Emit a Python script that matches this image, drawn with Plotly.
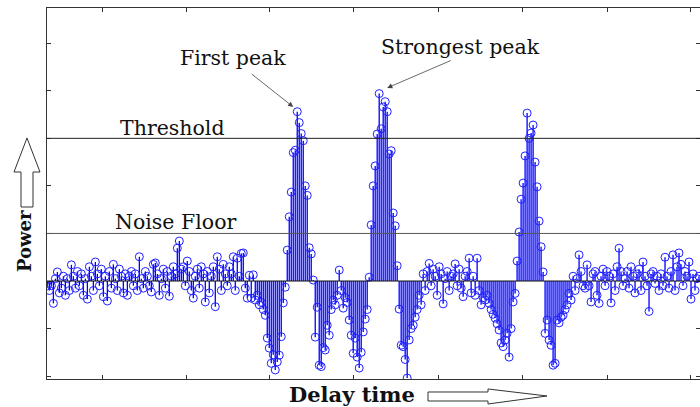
import plotly.graph_objects as go

# ---- data ----
power = [
    # 0-9
    -0.10, -0.20, -0.10, -0.47, 0.05, 0.19, -0.25, -0.15, 0.10, -0.30,
    # 10-19
    0.05, -0.20, 0.34, 0.10, -0.15, 0.20, -0.10, 0.15, -0.30, 0.05,
    # 20-29
    -0.38, 0.30, 0.10, -0.20, 0.40, 0.15, -0.10, 0.25, -0.33, 0.10,
    # 30-39
    -0.42, 0.20, -0.15, 0.35, 0.05, -0.20, 0.25, 0.10, -0.25, 0.15,
    # 40-49
    -0.30, 0.10, 0.20, -0.10, 0.15, -0.20, 0.51, 0.05, -0.15, 0.20,
    # 50-59
    0.10, -0.10, -0.23, 0.35, 0.38, 0.15, -0.30, 0.05, 0.25, -0.15,
    # 60-69
    0.20, -0.32, 0.10, 0.30, 0.15, 0.69, 0.84, 0.25, 0.30, -0.10,
    # 70-79
    0.42, 0.20, -0.20, -0.36, 0.10, 0.25, -0.15, 0.30, 0.15, -0.44,
    # 80-89
    0.20, -0.25, 0.10, 0.30, -0.54, 0.51, 0.25, -0.20, 0.35, 0.15,
    # 90-99
    -0.10, 0.30, 0.15, 0.51, -0.20, 0.48, 0.10, 0.58, 0.59, -0.15,
    # 100-109
    -0.36, 0.12, -0.36, 0.13, -0.40, -0.30, -0.50, -0.45, -0.60, -0.72,
    # 110-119
    -1.20, -1.41, -1.73, -1.55, -1.87, -1.70, -1.56, -1.17, -0.46, -0.13,
    # 120-129
    0.65, 1.35, 1.87, 2.70, 2.75, 3.56, 3.33, 3.10, 2.95, 2.00,
    # 130-139
    1.80, 0.70, 0.57, 0.02, -1.18, -0.55, -1.77, -1.80, -1.40, -1.45,
    # 140-149
    -0.93, -1.14, -0.60, -0.40, -0.50, -0.30, 0.23, -0.20, -0.57, -0.35,
    # 150-159
    -0.45, -0.82, -1.14, -1.52, -1.20, -1.60, -1.83, -1.50, -1.07, -0.80,
    # 160-169
    -0.60, 0.08, 1.18, 2.00, 2.42, 3.09, 3.94, 3.20, 3.66, 3.77,
    # 170-179
    3.56, 2.67, 2.74, 1.43, 1.16, 0.32, -0.59, -1.35, -1.38, -1.65,
    # 180-189
    -2.04, -1.24, -1.00, -0.93, -0.76, -0.60, -0.30, -0.50, 0.15, -0.20,
    # 190-199
    0.20, 0.37, -0.10, 0.25, 0.10, -0.30, 0.30, 0.15, -0.48, 0.05,
    # 200-209
    0.20, -0.20, 0.10, 0.15, 0.36, -0.10, 0.25, -0.15, -0.33, 0.10,
    # 210-219
    0.20, 0.48, -0.25, 0.10, -0.30, 0.48, -0.20, -0.50, -0.35, -0.40,
    # 220-229
    -0.30, -0.47, -0.60, -0.70, -0.78, -0.90, -1.03, -1.30, -1.38, -1.24,
    # 230-239
    -1.10, -1.60, -1.00, -0.44, -0.26, 0.42, 1.03, 1.72, 2.06, 2.63,
    # 240-249
    3.53, 3.00, 3.11, 3.28, 2.50, 1.98, 1.26, 0.72, 0.19, -1.10,
    # 250-259
    -0.82, -1.24, -1.35, -1.77, -1.73, -0.82, -0.88, -0.76, -0.72, -0.60,
    # 260-269
    -0.50, -0.26, -0.40, 0.10, -0.20, 0.05, 0.55, 0.20, -0.10, -0.15,
    # 270-279
    0.34, -0.10, -0.44, 0.15, 0.20, -0.30, -0.47, 0.10, 0.25, -0.10,
    # 280-289
    0.20, 0.10, -0.46, 0.15, -0.20, 0.30, 0.69, 0.20, -0.10, 0.05,
    # 290-299
    0.20, -0.15, 0.30, 0.10, -0.25, 0.15, 0.25, -0.20, 0.40, 0.10,
    # 300-309
    -0.10, -0.64, 0.15, 0.20, -0.05, 0.10, -0.20, 0.15, -0.10, 0.50,
    # 310-319
    0.10, -0.15, 0.20, 0.55, -0.20, 0.30, 0.59, 0.35, -0.10, 0.20,
    # 320-326
    0.10, 0.40, -0.38, 0.15, -0.20, 0.05, 0.10,
]
delay = list(range(len(power)))

threshold_level = 3.0
noise_floor_level = 1.0
y_ticks = [-2, -1, 0, 1, 2, 3, 4, 5]
x_ticks = [27.35, 69.5, 111, 153, 195.5, 237.5, 280, 321.5]

# ---- geometry helpers (pixel -> paper) ----
L, R, T, B = 47, 700, 8, 379
def px(x):
    return (x - L) / (R - L)
def py(y):
    return (B - y) / (B - T)

stem_x, stem_y = [], []
for xi, yi in zip(delay, power):
    stem_x += [xi, xi, None]
    stem_y += [0, yi, None]

fig = go.Figure()
fig.add_trace(go.Scatter(x=stem_x, y=stem_y, mode="lines",
                         line=dict(color="#0000FF", width=1.3),
                         hoverinfo="skip", showlegend=False))
fig.add_trace(go.Scatter(x=delay, y=power, mode="markers",
                         marker=dict(symbol="circle-open", size=8,
                                     color="#2020ff", line=dict(width=1)),
                         showlegend=False))

serif = "DejaVu Serif"
shapes = [
    dict(type="line", xref="paper", x0=0, x1=1, yref="y", y0=0, y1=0,
         line=dict(color="#111111", width=1), layer="above"),
    dict(type="line", xref="paper", x0=0, x1=1, yref="y",
         y0=threshold_level, y1=threshold_level,
         line=dict(color="#222222", width=1), layer="above"),
    dict(type="line", xref="paper", x0=0, x1=1, yref="y",
         y0=noise_floor_level, y1=noise_floor_level,
         line=dict(color="#555555", width=1), layer="above"),
]
# hollow up arrow (y axis)
up = [(21, 207), (21, 172), (14, 172), (27, 138), (40, 172), (33, 172), (33, 207)]
path = "M " + " L ".join(f"{px(a):.5f},{py(b):.5f}" for a, b in up) + " Z"
shapes.append(dict(type="path", xref="paper", yref="paper", path=path,
                   line=dict(color="#333333", width=1), fillcolor="white"))
# hollow right arrow (x axis)
right = [(428, 392), (488, 392), (488, 389), (547, 396), (488, 404), (488, 401), (428, 401)]
path = "M " + " L ".join(f"{px(a):.5f},{py(b):.5f}" for a, b in right) + " Z"
shapes.append(dict(type="path", xref="paper", yref="paper", path=path,
                   line=dict(color="#333333", width=1), fillcolor="white"))

def label(text, cx, cy, size=20, bold=False, angle=0):
    return dict(text=f"<b>{text}</b>" if bold else text,
                xref="paper", yref="paper", x=px(cx), y=py(cy),
                xanchor="center", yanchor="middle", showarrow=False,
                textangle=angle,
                font=dict(family=serif, size=size, color="#111111"))

annotations = [
    label("First peak", 233, 58, size=20.5),
    label("Strongest peak", 461, 47, size=20.5),
    label("Threshold", 172, 128, size=20.5),
    label("Noise Floor", 175, 222, size=20.5),
    label("Power", 25, 241, size=18, bold=True, angle=-90),
    label("Delay time", 352, 394, size=21, bold=True),
    dict(x=123, y=3.66, xref="x", yref="y", ax=-43, ay=-34,
         axref="pixel", ayref="pixel", showarrow=True, arrowhead=2,
         arrowsize=1.3, arrowwidth=0.8, arrowcolor="#444444", text=""),
    dict(x=170, y=4.06, xref="x", yref="y", ax=65, ay=-28,
         axref="pixel", ayref="pixel", showarrow=True, arrowhead=2,
         arrowsize=1.3, arrowwidth=0.8, arrowcolor="#444444", text=""),
]

fig.update_layout(
    width=700, height=407,
    margin=dict(l=L, r=700 - R, t=T, b=407 - B),
    paper_bgcolor="white", plot_bgcolor="white",
    shapes=shapes, annotations=annotations,
    xaxis=dict(range=[-0.2, 326.5], showgrid=False, zeroline=False,
               showline=True, linecolor="#333333", linewidth=1, mirror="ticks",
               ticks="inside", ticklen=4, tickcolor="#333333",
               tickvals=x_ticks, showticklabels=False),
    yaxis=dict(range=[-2.06, 5.74], showgrid=False, zeroline=False,
               showline=True, linecolor="#333333", linewidth=1, mirror="ticks",
               ticks="inside", ticklen=4, tickcolor="#333333",
               tickvals=y_ticks, showticklabels=False),
)

fig.write_html("out.html")
